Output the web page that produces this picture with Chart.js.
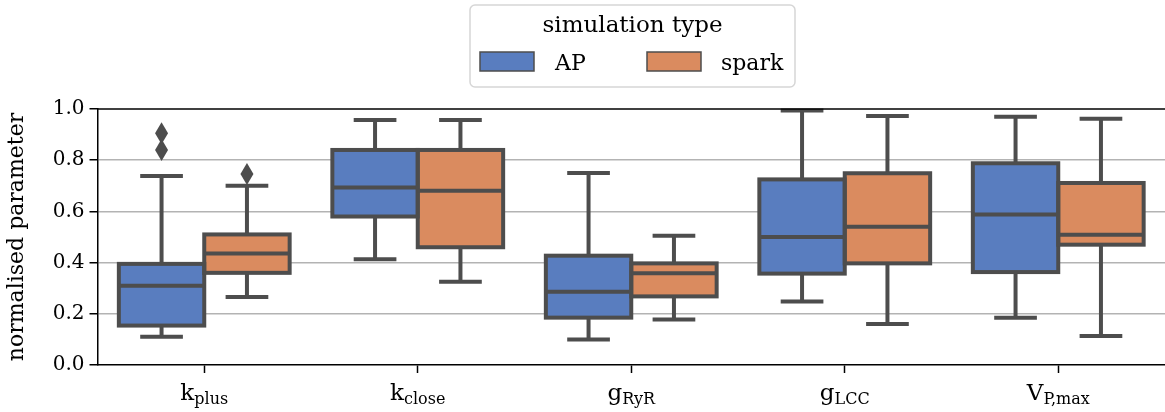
<!DOCTYPE html>
<html>
<head>
<meta charset="utf-8">
<script src="https://cdn.jsdelivr.net/npm/chart.js@4/dist/chart.umd.min.js"></script>
<style>
  html, body { margin: 0; padding: 0; background: #fff; }
  #wrap { width: 1165px; height: 412px; }
</style>
</head>
<body>
<div id="wrap"><canvas id="chart"></canvas></div>
<script>
const categories = ['k_plus', 'k_close', 'g_RyR', 'g_LCC', 'V_P,max'];
const tickMain = ['k', 'k', 'g', 'g', 'V'];
const tickSub = ['plus', 'close', 'RyR', 'LCC', 'P,max'];
const seriesNames = ['AP', 'spark'];

const apLow = [0.11, 0.413, 0.10, 0.248, 0.185];
const apQ1 = [0.154, 0.58, 0.185, 0.357, 0.363];
const apMedian = [0.31, 0.693, 0.286, 0.50, 0.588];
const apQ3 = [0.395, 0.84, 0.427, 0.725, 0.788];
const apHigh = [0.738, 0.957, 0.75, 0.994, 0.97];
const apOutliers = [[0.905, 0.84], [], [], [], []];

const sparkLow = [0.266, 0.325, 0.178, 0.16, 0.113];
const sparkQ1 = [0.36, 0.46, 0.268, 0.397, 0.47];
const sparkMedian = [0.436, 0.681, 0.358, 0.54, 0.509];
const sparkQ3 = [0.51, 0.84, 0.397, 0.749, 0.711];
const sparkHigh = [0.70, 0.957, 0.505, 0.973, 0.962];
const sparkOutliers = [[0.746], [], [], [], []];

const yTicks = [0, 0.2, 0.4, 0.6, 0.8, 1.0];

const COLOR_AP = '#597dbf';
const COLOR_SPARK = '#da8b5f';
const COLOR_LINE = '#4d4d4d';
const FONT = '"DejaVu Serif", serif';
const LW = 4;

const stats = [
  { low: apLow, q1: apQ1, med: apMedian, q3: apQ3, high: apHigh, out: apOutliers },
  { low: sparkLow, q1: sparkQ1, med: sparkMedian, q3: sparkQ3, high: sparkHigh, out: sparkOutliers },
];

// box outlines, whiskers, medians and outliers on top of the floating bars
const boxExtras = {
  id: 'boxExtras',
  afterDatasetsDraw(chart) {
    const { ctx } = chart;
    const y = chart.scales.y;
    ctx.save();
    ctx.strokeStyle = COLOR_LINE;
    ctx.fillStyle = COLOR_LINE;
    ctx.lineWidth = LW;
    ctx.lineCap = 'butt';
    const line = (x1, y1, x2, y2) => {
      ctx.beginPath();
      ctx.moveTo(x1, y1);
      ctx.lineTo(x2, y2);
      ctx.stroke();
    };
    stats.forEach((s, di) => {
      const meta = chart.getDatasetMeta(di);
      meta.data.forEach((el, i) => {
        const x = el.x;
        const w = el.width;
        const yq1 = y.getPixelForValue(s.q1[i]);
        const yq3 = y.getPixelForValue(s.q3[i]);
        const yhi = y.getPixelForValue(s.high[i]);
        const ylo = y.getPixelForValue(s.low[i]);
        const ymed = y.getPixelForValue(s.med[i]);
        line(x, yq3, x, yhi);
        line(x, yq1, x, ylo);
        line(x - w / 4, yhi, x + w / 4, yhi);
        line(x - w / 4, ylo, x + w / 4, ylo);
        ctx.lineJoin = 'miter';
        ctx.strokeRect(x - w / 2, yq3, w, yq1 - yq3);
        line(x - w / 2, ymed, x + w / 2, ymed);
        s.out[i].forEach((v) => {
          const py = y.getPixelForValue(v);
          ctx.beginPath();
          ctx.moveTo(x, py - 11);
          ctx.lineTo(x + 6.5, py);
          ctx.lineTo(x, py + 11);
          ctx.lineTo(x - 6.5, py);
          ctx.closePath();
          ctx.fill();
        });
      });
    });
    ctx.restore();
  },
  afterDraw(chart) {
    const { ctx, chartArea } = chart;
    const xs = chart.scales.x;
    ctx.save();
    // top spine
    ctx.strokeStyle = '#000';
    ctx.lineWidth = 1.5;
    ctx.beginPath();
    ctx.moveTo(chartArea.left, chartArea.top);
    ctx.lineTo(chartArea.right + 4, chartArea.top);
    ctx.stroke();

    // x tick labels with subscripts
    ctx.fillStyle = '#000';
    ctx.textBaseline = 'alphabetic';
    ctx.textAlign = 'left';
    const mainFont = '23px ' + FONT;
    const subFont = '16px ' + FONT;
    categories.forEach((c, i) => {
      const cx = xs.getPixelForTick(i);
      ctx.font = mainFont;
      const mw = ctx.measureText(tickMain[i]).width;
      ctx.font = subFont;
      const sw = ctx.measureText(tickSub[i]).width;
      const start = cx - (mw + sw) / 2;
      ctx.font = mainFont;
      ctx.fillText(tickMain[i], start, 400);
      ctx.font = subFont;
      ctx.fillText(tickSub[i], start + mw, 404);
    });

    // legend
    const bx = 470, by = 5, bw = 325, bh = 82;
    ctx.beginPath();
    ctx.roundRect(bx, by, bw, bh, 5);
    ctx.fillStyle = 'rgba(255,255,255,0.8)';
    ctx.fill();
    ctx.strokeStyle = '#d6d6d6';
    ctx.lineWidth = 1.5;
    ctx.stroke();
    ctx.fillStyle = '#000';
    ctx.font = '23px ' + FONT;
    ctx.textAlign = 'center';
    ctx.fillText('simulation type', bx + bw / 2, 32);
    ctx.textAlign = 'left';
    const patchX = [480, 647];
    const textX = [555, 721];
    chart.data.datasets.forEach((ds, di) => {
      ctx.fillStyle = ds.backgroundColor;
      ctx.fillRect(patchX[di], 52, 54, 19);
      ctx.strokeStyle = COLOR_LINE;
      ctx.lineWidth = 1.5;
      ctx.strokeRect(patchX[di], 52, 54, 19);
      ctx.fillStyle = '#000';
      ctx.font = '22px ' + FONT;
      ctx.fillText(ds.label, textX[di], 70);
    });
    ctx.restore();
  },
};

const datasets = [
  {
    label: seriesNames[0],
    data: apQ1.map((v, i) => [v, apQ3[i]]),
    backgroundColor: COLOR_AP,
  },
  {
    label: seriesNames[1],
    data: sparkQ1.map((v, i) => [v, sparkQ3[i]]),
    backgroundColor: COLOR_SPARK,
  },
].map((d) => ({
  ...d,
  borderWidth: 0,
  categoryPercentage: 0.8,
  barPercentage: 1.0,
}));

new Chart(document.getElementById('chart'), {
  type: 'bar',
  data: { labels: categories, datasets },
  options: {
    responsive: true,
    maintainAspectRatio: false,
    animation: false,
    layout: { padding: { top: 109, right: -2, bottom: 0, left: 0 } },
    plugins: {
      legend: { display: false },
      tooltip: { enabled: false },
    },
    scales: {
      x: {
        afterFit(scale) { scale.height = 47; },
        grid: {
          offset: false,
          drawOnChartArea: false,
          drawTicks: true,
          tickLength: 8,
          tickColor: '#000',
          tickWidth: 1.5,
        },
        border: { display: true, color: '#000', width: 1.5 },
        ticks: { callback: () => '', font: { size: 1 } },
      },
      y: {
        min: 0,
        max: 1,
        afterFit(scale) { scale.width = 97.5; },
        afterBuildTicks(scale) { scale.ticks = yTicks.map((v) => ({ value: v })); },
        grid: {
          color: (ctx) => (ctx.tick && (ctx.tick.value === 0 || ctx.tick.value === 1) ? 'rgba(0,0,0,0)' : '#b3b3b3'),
          lineWidth: 1.5,
          drawTicks: true,
          tickLength: 8,
          tickColor: '#000',
          tickWidth: 1.5,
        },
        border: { display: true, color: '#000', width: 1.5 },
        ticks: {
          color: '#000',
          padding: 5,
          font: { family: FONT, size: 20 },
          callback: (v) => Number(v).toFixed(1),
        },
        title: {
          display: true,
          text: 'normalised parameter',
          color: '#000',
          font: { family: FONT, size: 22 },
          padding: { top: 4, bottom: 0 },
        },
      },
    },
  },
  plugins: [boxExtras],
});
</script>
</body>
</html>
